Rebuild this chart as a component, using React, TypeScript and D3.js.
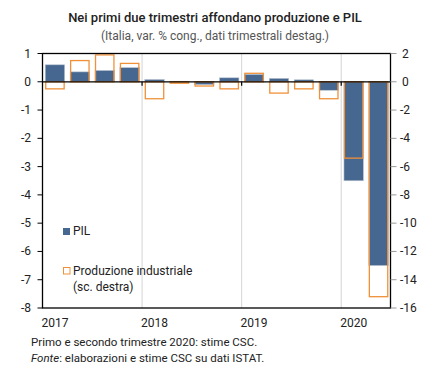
import React from "react";
import * as d3 from "d3";

const quarters = ["2017Q1","2017Q2","2017Q3","2017Q4","2018Q1","2018Q2","2018Q3","2018Q4","2019Q1","2019Q2","2019Q3","2019Q4","2020Q1","2020Q2"];
const pil = [0.6, 0.35, 0.4, 0.5, 0.08, 0.02, -0.1, 0.14, 0.26, 0.12, 0.07, -0.3, -3.5, -6.5];
const produzione = [-0.5, 1.5, 1.9, 1.3, -1.2, -0.1, -0.3, -0.5, 0.6, -0.8, -0.5, -1.2, -5.4, -15.2];
const years = ["2017", "2018", "2019", "2020"];
const leftTicks = [1, 0, -1, -2, -3, -4, -5, -6, -7, -8];
const rightTicks = [2, 0, -2, -4, -6, -8, -10, -12, -14, -16];

const FONT = "Roboto, 'Noto Sans', sans-serif";
const BLUE = "#466790";
const ORANGE = "#f0913a";

export default function App() {
  const W = 430, H = 376;
  const left = 42.5, right = 390.5, top = 53.5, bottom = 308;
  const x = d3.scaleBand<string>().domain(quarters).range([left, right + 0.5]).paddingInner(0.22).paddingOuter(0.11);
  const yL = d3.scaleLinear().domain([-8, 1]).range([bottom, top]);
  const yR = d3.scaleLinear().domain([-16, 2]).range([bottom, top]);
  const step = x.step();
  const yearX = (y: string) => (x(y + "Q1") as number) - step * 0.11;
  const zero = yL(0);

  return (
    <svg width={W} height={H} style={{ position: "absolute", left: 0, top: 0, background: "#fff" }} fontFamily={FONT}>
      <text x={215} y={22} textAnchor="middle" fontSize={13} fontWeight={500} fill="#222">Nei primi due trimestri affondano produzione e PIL</text>
      <text x={215} y={40} textAnchor="middle" fontSize={12} fill="#555">(Italia, var. % cong., dati trimestrali destag.)</text>

      {years.slice(1).map((y) => (
        <line key={y} x1={yearX(y)} x2={yearX(y)} y1={top} y2={bottom} stroke="#d4d4d4" strokeWidth={1} />
      ))}

      {quarters.map((q, i) => {
        const v = pil[i];
        const y0 = yL(Math.max(0, v));
        const h = Math.abs(yL(v) - yL(0));
        return <rect key={"p" + q} x={x(q)} y={y0} width={x.bandwidth()} height={h} fill={BLUE} stroke="#b9c3d0" strokeWidth={0.6} />;
      })}
      {quarters.map((q, i) => {
        const v = produzione[i];
        const y0 = yR(Math.max(0, v));
        const h = Math.abs(yR(v) - yR(0));
        return <rect key={"o" + q} x={(x(q) as number) + 0.5} y={y0} width={x.bandwidth() - 1} height={h} fill="none" stroke={ORANGE} strokeWidth={1.3} />;
      })}

      <line x1={left} x2={right} y1={zero} y2={zero} stroke="#000" strokeWidth={1.3} />
      {years.slice(1).map((y) => (
        <line key={"zt" + y} x1={yearX(y)} x2={yearX(y)} y1={zero} y2={zero + 4} stroke="#000" strokeWidth={1.2} />
      ))}

      <rect x={left} y={top} width={right - left} height={bottom - top} fill="none" stroke="#000" strokeWidth={1.3} />

      {leftTicks.map((t) => (
        <g key={"l" + t}>
          <line x1={left - 5} x2={left} y1={yL(t)} y2={yL(t)} stroke="#000" strokeWidth={1} />
          <text x={31} y={yL(t) + 4} textAnchor="end" fontSize={12} fill="#222">{t}</text>
        </g>
      ))}
      {rightTicks.map((t) => (
        <g key={"r" + t}>
          <line x1={right} x2={right + 6} y1={yR(t)} y2={yR(t)} stroke="#999" strokeWidth={1} />
          <text x={t < 0 ? 400 : 402} y={yR(t) + 4} textAnchor="start" fontSize={12} fill="#222">{t}</text>
        </g>
      ))}

      {years.map((y) => (
        <text key={"y" + y} x={(x(y + "Q1") as number) + x.bandwidth() / 2} y={327} textAnchor="middle" fontSize={12} fill="#222">{y}</text>
      ))}

      <rect x={63} y={228} width={7} height={7} fill={BLUE} />
      <text x={73} y={235} fontSize={12} fill="#222">PIL</text>
      <rect x={63.5} y={267.5} width={6.5} height={6.5} fill="none" stroke={ORANGE} strokeWidth={1} />
      <text x={73} y={275} fontSize={12} fill="#222">Produzione industriale</text>
      <text x={73} y={291} fontSize={12} fill="#222">(sc. destra)</text>

      <text x={31} y={346} fontSize={11.5} fill="#222">Primo e secondo trimestre 2020: stime CSC.</text>
      <text x={31} y={362} fontSize={11.5} fill="#222"><tspan fontStyle="italic">Fonte</tspan>: elaborazioni e stime CSC su dati ISTAT.</text>
    </svg>
  );
}
